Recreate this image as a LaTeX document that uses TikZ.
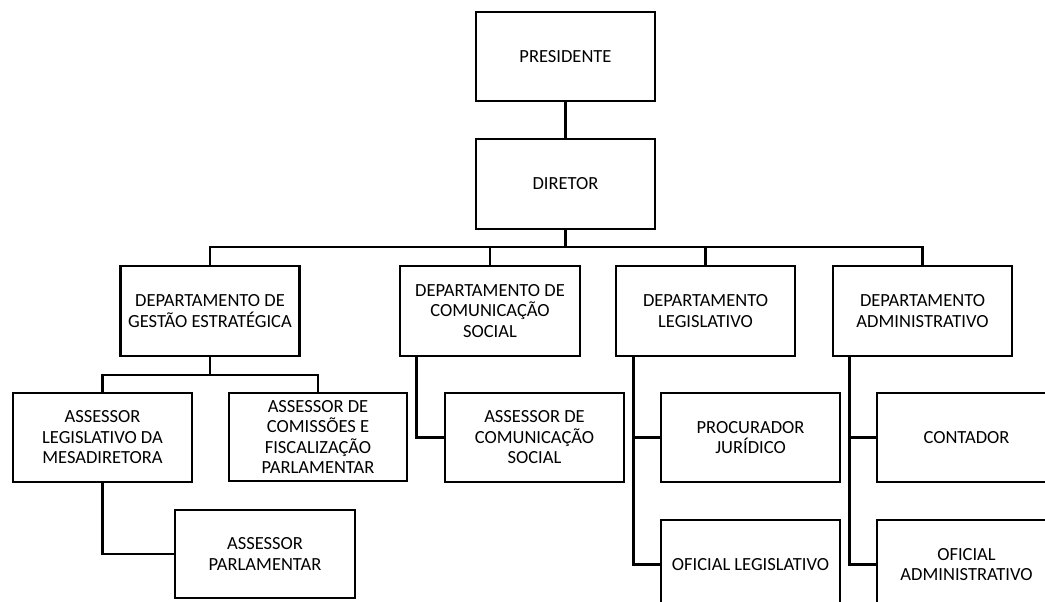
\documentclass[tikz,border=0pt]{standalone}
\usepackage{fontspec}
\setmainfont{Carlito}
\begin{document}
\begin{tikzpicture}[x=1pt,y=-1pt,
  orgbox/.style={draw, line width=2.8pt, align=center, inner sep=0pt,
    font=\fontsize{18.5}{20.5}\selectfont, minimum width=179pt, minimum height=89pt},
  link/.style={line width=2.8pt}]
\useasboundingbox (0,0) rectangle (1045,602);
\clip (0,0) rectangle (1045,602);
\node[orgbox] (pres) at (565.5,56.5) {PRESIDENTE};
\node[orgbox, minimum height=90pt] (dir) at (565.5,184) {DIRETOR};
\node[orgbox, minimum height=90pt] (gest) at (210,311) {DEPARTAMENTO DE\\GESTÃO ESTRATÉGICA};
\node[orgbox, minimum height=90pt, minimum width=180pt] (com) at (490,311) {DEPARTAMENTO DE\\COMUNICAÇÃO\\SOCIAL};
\node[orgbox, minimum height=90pt] (leg) at (705.5,311) {DEPARTAMENTO\\LEGISLATIVO};
\node[orgbox, minimum height=90pt] (adm) at (922.5,311) {DEPARTAMENTO\\ADMINISTRATIVO};
\node[orgbox] (asleg) at (102.5,437.5) {ASSESSOR\\LEGISLATIVO DA\\MESADIRETORA};
\node[orgbox, minimum width=178pt, minimum height=88pt, line width=1.8pt] (ascmi) at (318,437) {ASSESSOR DE\\COMISSÕES E\\FISCALIZAÇÃO\\PARLAMENTAR};
\node[orgbox] (ascso) at (534.5,437.5) {ASSESSOR DE\\COMUNICAÇÃO\\SOCIAL};
\node[orgbox] (proc) at (750.5,437.5) {PROCURADOR\\JURÍDICO};
\node[orgbox] (cont) at (966.5,437.5) {CONTADOR};
\node[orgbox, minimum width=180pt, minimum height=88pt] (aspar) at (265,554) {ASSESSOR\\PARLAMENTAR};
\node[orgbox] (ofleg) at (750.5,564.5) {OFICIAL LEGISLATIVO};
\node[orgbox] (ofadm) at (966.5,564.5) {OFICIAL\\ADMINISTRATIVO};
\coordinate (bar) at (565.5,247);
\coordinate (subbar) at (210,375);
\draw[link] (pres.south) -- (dir.south |- pres.south) -- (dir.north);
\draw[link] (dir.south) -- (bar);
\draw[link] (gest.north) |- (bar) -| (adm.north);
\draw[link] (com.north |- bar) -- (com.north);
\draw[link] (leg.north |- bar) -- (leg.north);
\draw[link] (gest.south) -- (subbar);
\draw[link] (asleg.north) |- (subbar) -| (ascmi.north);
\draw[link] (asleg.south) |- (aspar.west);
\draw[link] ([xshift=18pt]com.south west) |- (ascso.west);
\draw[link] ([xshift=19pt]leg.south west) |- (ofleg.west);
\draw[link] ([xshift=19pt]leg.south west |- proc.west) -- (proc.west);
\draw[link] ([xshift=18pt]adm.south west) |- (ofadm.west);
\draw[link] ([xshift=18pt]adm.south west |- cont.west) -- (cont.west);
\end{tikzpicture}
\end{document}
